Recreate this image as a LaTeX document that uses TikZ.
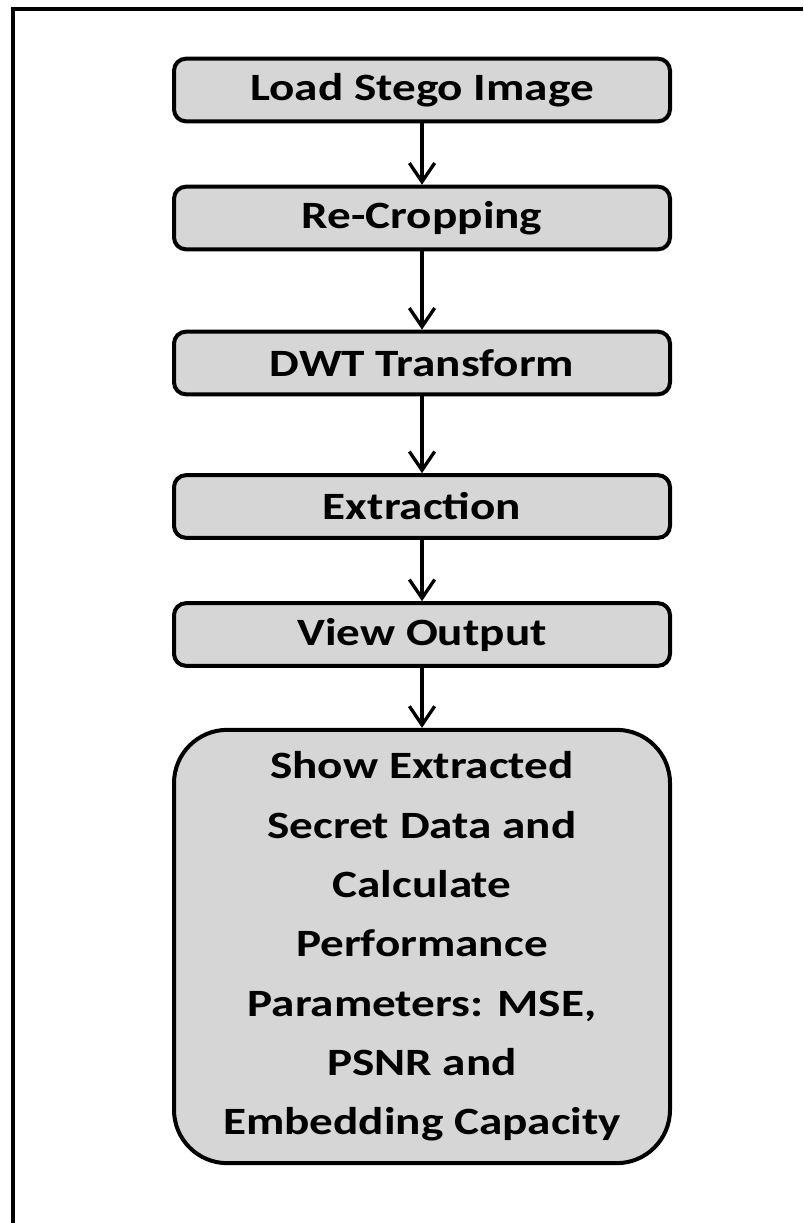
\documentclass[tikz,border=0pt]{standalone}
\usepackage{fontspec}
\setmainfont{Carlito}[FakeStretch=1.22]
\usetikzlibrary{arrows.meta}
\definecolor{boxgray}{RGB}{214,214,214}
\tikzset{
  stepbox/.style={draw, line width=3pt, fill=boxgray, rounded corners=9pt,
    minimum width=372pt, minimum height=47pt, inner sep=0pt,
    font=\fontsize{29}{32}\selectfont\bfseries},
  bigbox/.style={stepbox, rounded corners=40pt, minimum height=325pt,
    align=center, font=\fontsize{29}{44.5}\selectfont\bfseries}
}
\begin{document}
\begin{tikzpicture}[x=0.75pt, y=-0.75pt]
      \useasboundingbox (0,0) rectangle (803,1223);
      \draw[line width=3pt] (13,1223) -- (13,9.5) -- (803,9.5);
      \draw
        (422,90) node[stepbox] (load){Load Stego Image}
        (422,218) node[stepbox] (crop){Re-Cropping}
        (422,363) node[stepbox] (dwt){DWT Transform}
        (422,506.5) node[stepbox] (extract){Extraction}
        (422,634.5) node[stepbox] (view){View Output}
        (422,946.5) node[bigbox] (show){Show Extracted\\Secret Data and\\Calculate\\Performance\\Parameters: MSE,\\PSNR and\\Embedding Capacity};
      \begin{scope}[line width=2.5pt, -{Straight Barb[length=14pt, width=19pt, line width=2.5pt]}]
        \draw (load) to (crop);
        \draw (crop) to (dwt);
        \draw (dwt) to (extract);
        \draw (extract) to (view);
        \draw (view) to (show);
      \end{scope}
    \end{tikzpicture}
\end{document}
